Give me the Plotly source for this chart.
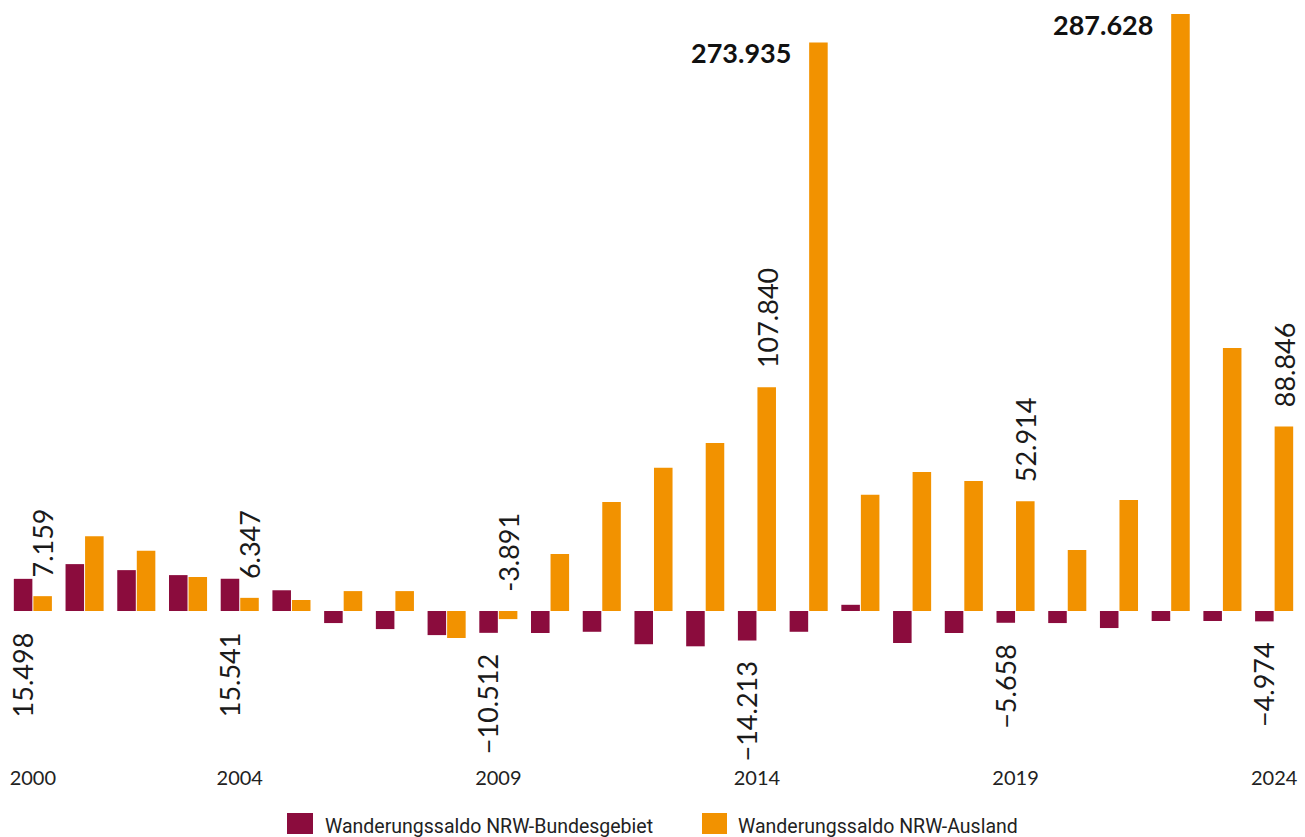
import plotly.graph_objects as go

years = [str(y) for y in range(2000, 2025)]
bundesgebiet = [15498, 22600, 19700, 17300, 15541, 10000, -5800, -8700, -11600, -10512,
                -10600, -10000, -16000, -17000, -14213, -10000, 3000, -15400, -10600, -5658,
                -5800, -8200, -4800, -4800, -4974]
ausland = [7159, 36000, 29000, 16400, 6347, 5300, 9600, 9600, -13000, -3891,
           27500, 52500, 69000, 81000, 107840, 273935, 56000, 67000, 62600, 52914,
           29400, 53500, 287628, 126700, 88846]

series_names = ["Wanderungssaldo NRW-Bundesgebiet", "Wanderungssaldo NRW-Ausland"]
tick_years = ["2000", "2004", "2009", "2014", "2019", "2024"]
bund_labels = {"2000": "15.498", "2004": "15.541", "2009": "\u221210.512",
               "2014": "\u221214.213", "2019": "\u22125.658", "2024": "\u22124.974"}
ausl_labels = {"2000": "7.159", "2004": "6.347", "2009": "-3.891",
               "2014": "107.840", "2019": "52.914", "2024": "88.846"}
bold_labels = {"2015": "273.935", "2022": "287.628"}

C_BUND = "#8B0C3D"
C_AUSL = "#F29200"
NUM_FONT = "Lato, Inter, sans-serif"

W, H = 1305, 837
ML, MR, MT, MB = 7, 5, 14, 73
PW, PH = W - ML - MR, H - MT - MB

def px_x(x):
    return (x - ML) / PW

def px_y(y):
    return (H - MB - y) / PH

fig = go.Figure()
fig.add_trace(go.Bar(x=years, y=bundesgebiet, name=series_names[0], showlegend=False,
                     marker=dict(color=C_BUND, line=dict(width=0))))
fig.add_trace(go.Bar(x=years, y=ausland, name=series_names[1], showlegend=False,
                     marker=dict(color=C_AUSL, line=dict(width=0))))

annotations = []
for i, yr in enumerate(years):
    if yr in bund_labels:
        annotations.append(dict(x=i, y=min(bundesgebiet[i], 0), text=bund_labels[yr],
                                textangle=-90, showarrow=False, xanchor="center", yanchor="top",
                                xshift=-10, yshift=-19,
                                font=dict(family=NUM_FONT, size=27, color="#1a1a1a")))
    if yr in ausl_labels:
        annotations.append(dict(x=i, y=max(ausland[i], 0), text=ausl_labels[yr],
                                textangle=-90, showarrow=False, xanchor="center", yanchor="bottom",
                                xshift=10, yshift=17,
                                font=dict(family=NUM_FONT, size=27, color="#1a1a1a")))
    if yr in bold_labels:
        annotations.append(dict(x=i, y=ausland[i], text="<b>" + bold_labels[yr] + "</b>",
                                showarrow=False, xanchor="right", yanchor="top",
                                xshift=-16, yshift=8,
                                font=dict(family=NUM_FONT, size=27, color="#111111")))

# custom legend (large squares as in the reference)
shapes = []
legend_items = [(287, 313, 323, C_BUND, series_names[0]),
                (702, 727, 736, C_AUSL, series_names[1])]
for x0, x1, tx, col, name in legend_items:
    shapes.append(dict(type="rect", xref="paper", yref="paper",
                       x0=px_x(x0), x1=px_x(x1), y0=px_y(834), y1=px_y(813),
                       fillcolor=col, line=dict(width=0)))
    annotations.append(dict(xref="paper", yref="paper", x=px_x(tx), y=px_y(826),
                            text=name, showarrow=False, xanchor="left", yanchor="middle",
                            font=dict(family="Roboto, sans-serif", size=19.5, color="#222222")))

fig.update_layout(
    width=W, height=H,
    paper_bgcolor="white", plot_bgcolor="white",
    barmode="group", bargap=0.245, bargroupgap=0.05,
    margin=dict(l=ML, r=MR, t=MT, b=MB),
    showlegend=False,
    xaxis=dict(type="category", range=[-0.5, len(years) - 0.5],
               tickmode="array", tickvals=tick_years, ticktext=tick_years,
               showgrid=False, zeroline=False, showline=False, ticks="",
               tickfont=dict(family="Lato, Inter, sans-serif", size=20, color="#222222")),
    yaxis=dict(range=[-73700, 287628], showgrid=False, zeroline=False, showline=False,
               showticklabels=False, ticks=""),
    annotations=annotations,
    shapes=shapes,
)

fig.write_html("out.html", config={"displayModeBar": False},
               post_script="document.body.style.margin='0';")
